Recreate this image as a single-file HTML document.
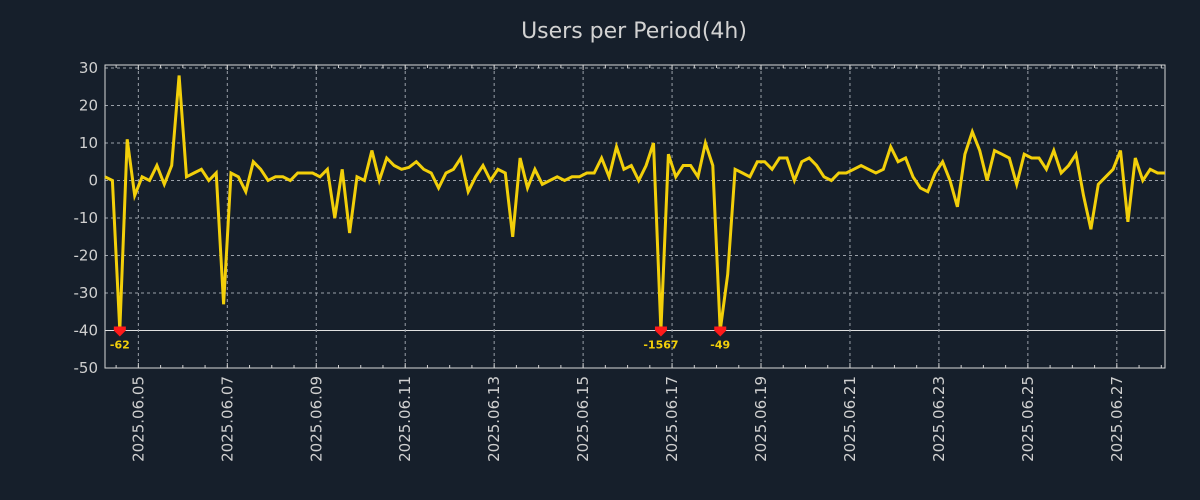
<!DOCTYPE html>
<html><head><meta charset="utf-8"><style>
html,body{margin:0;padding:0;background:#161f2b;}
svg{display:block;font-family:"DejaVu Sans","Liberation Sans",sans-serif;}
</style></head><body>
<svg id="chart" width="1200" height="500">
<rect width="1200" height="500" fill="#161f2b"/>
<text x="634" y="38" text-anchor="middle" font-size="22" fill="#d2d2d2">Users per Period(4h)</text>
<g id="grid"></g><g id="axes"></g><g id="series"></g>
</svg>
<script>
const values=[1,0,-62,11,-4,1,0,4,-1,4,28,1,2,3,0,2,-33,2,1,-3,5,3,0,1,1,
0,2,2,2,1,3,-10,3,-14,1,0,8,0,6,4,3,3.5,5,3,2,-2,2,3,6,-3,
1,4,0,3,2,-15,6,-2,3,-1,0,1,0,1,1,2,2,6,1,9,3,4,0,4,10,-1567,
7,1,4,4,1,10,4,-49,
-25,3,2,1,5,5,3,6,6,0,5,6,4,1,0,2,2,3,4,3,2,3,9,5,6,1,-2,-3,2,5,0,-7,7,13,8,0,8,7,6,-1,7,6,6,3,8,2,4,7,-4,-13,-1,1,3,8,-11,6,0,3,2,2];
const yTicks=[30,20,10,0,-10,-20,-30,-40,-50];
const xTickLabels=["2025.06.05","2025.06.07","2025.06.09","2025.06.11","2025.06.13","2025.06.15","2025.06.17","2025.06.19","2025.06.21","2025.06.23","2025.06.25","2025.06.27"];
const startHourOffset=18; // hours from first point to 2025.06.05 00:00
const periodHours=4;
const clampValue=-40;

const NS="http://www.w3.org/2000/svg";
const L=105,R=1165,T=65,B=368;
const yMin=-50,yMax=30.8;
const n=values.length;
const step=(R-L)/(n-1);
const xs=i=>L+i*step;
const ys=v=>B-(v-yMin)/(yMax-yMin)*(B-T);
const xDay=d=>L+(startHourOffset+d*24)/periodHours*step;
function mk(tag,attrs,parent){const e=document.createElementNS(NS,tag);for(const k in attrs)e.setAttribute(k,attrs[k]);parent.appendChild(e);return e;}
const grid=document.getElementById('grid'),axes=document.getElementById('axes'),series=document.getElementById('series');

yTicks.forEach(v=>{
  const y=ys(v);
  const g=mk('line',{x1:L,x2:R,y1:y,y2:y,stroke:v===clampValue?'#e0e0e0':'#9aa0a8','stroke-width':1,'stroke-dasharray':v===clampValue?'':'3,3'},grid);
  
  
  const t=mk('text',{x:L-7,y:y+5,'text-anchor':'end','font-size':15,fill:'#d0d0d0'},axes);
  t.textContent=v;
  
  
});
xTickLabels.forEach((lab,k)=>{
  const x=xDay(k*2);
  const g=mk('line',{x1:x,x2:x,y1:T,y2:B,stroke:'#9aa0a8','stroke-width':1,'stroke-dasharray':'3,3'},grid);
  
  
  const t=mk('text',{x:0,y:0,'text-anchor':'end','font-size':15,fill:'#d0d0d0',transform:`translate(${x+5},${B+8}) rotate(-90)`},axes);
  t.textContent=lab;
  
  
});
for(let h=-36;h<=24*25;h+=12){
  const x=xDay(h/24);
  if(x<L||x>R)continue;
  const len=(h%48===0)?5:3;
  [[B,B-len],[T,T+len]].forEach(([a,b])=>{
    const tk=mk('line',{x1:x,x2:x,y1:a,y2:b,stroke:'#d0d0d0','stroke-width':1},axes);
    
    
  });
}
const frame=mk('rect',{x:L,y:T,width:R-L,height:B-T,fill:'none',stroke:'#d8d8d8','stroke-width':1},axes);



const pts=values.map((v,i)=>xs(i).toFixed(1)+','+ys(Math.max(v,clampValue)).toFixed(1)).join(' ');
const line=mk('polyline',{points:pts,fill:'none',stroke:'#f2cf0a','stroke-width':3,'stroke-linejoin':'miter'},series);


values.forEach((v,i)=>{
  if(v>=clampValue)return;
  const x=xs(i),y=ys(clampValue);
  const m=mk('path',{d:`M${x-6},${y-4} L${x+6},${y-4} L${x+6},${y} L${x},${y+6} L${x-6},${y} Z`,fill:'#ff1a1a'},series);
  
  
  const t=mk('text',{x:x,y:y+18,'text-anchor':'middle','font-size':11,'font-weight':'bold',fill:'#f2cf0a'},series);
  t.textContent=v;
  
  
});
</script>
</body></html>
